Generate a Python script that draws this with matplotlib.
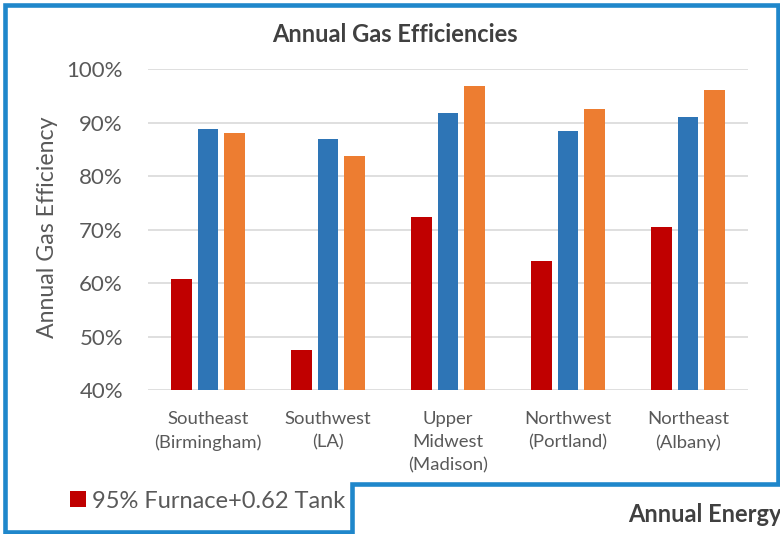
import matplotlib
matplotlib.use("Agg")
import matplotlib.pyplot as plt
from matplotlib.patches import Rectangle
import numpy as np

categories = ["Southeast\n(Birmingham)", "Southwest\n(LA)", "Upper\nMidwest\n(Madison)",
              "Northwest\n(Portland)", "Northeast\n(Albany)"]
series_names = ["95% Furnace+0.62 Tank", "Series 2", "Series 3"]
furnace_tank = [0.608, 0.474, 0.723, 0.641, 0.705]
series_blue = [0.888, 0.870, 0.918, 0.885, 0.911]
series_orange = [0.880, 0.838, 0.969, 0.925, 0.961]
yticks = [0.4, 0.5, 0.6, 0.7, 0.8, 0.9, 1.0]
ytick_labels = ["40%", "50%", "60%", "70%", "80%", "90%", "100%"]

colors = ["#C00000", "#2E75B6", "#ED7D31"]
FONT = ["Lato", "DejaVu Sans"]
plt.rcParams['font.family'] = FONT

W, H = 780, 534
fig = plt.figure(figsize=(W / 100, H / 100), dpi=100)
fig.patch.set_facecolor("white")

ax = fig.add_axes([148 / W, 1 - 390 / H, 600 / W, (390 - 69.3) / H])
x = np.arange(len(categories))
width = 0.173
step = 0.219
bars = []
for i, (vals, c) in enumerate(zip([furnace_tank, series_blue, series_orange], colors)):
    b = ax.bar(x + (i - 1) * step, vals, width=width, color=c, zorder=3, label=series_names[i])
    bars.append(b)

ax.set_ylim(0.4, 1.0)
ax.set_xlim(-0.5, len(categories) - 0.5)
ax.set_yticks(yticks)
ax.set_yticklabels(ytick_labels)
ax.set_xticks(x)
ax.set_xticklabels(categories, linespacing=1.55)
ax.grid(axis="y", color="#D9D9D9", linewidth=1.2, zorder=0)
for s in ax.spines.values():
    s.set_visible(False)
ax.tick_params(axis="y", length=0, pad=18, labelsize=16, labelcolor="#595959")
ax.tick_params(axis="x", length=0, pad=15, labelsize=13.3, labelcolor="#595959")
ax.set_ylabel("Annual Gas Efficiency", fontsize=16.7, color="#595959")
ax.yaxis.set_label_coords(-0.15, 0.507)

fig.text(395 / W, 1 - 35 / H, "Annual Gas Efficiencies", ha="center", va="center",
         fontsize=17, fontweight="bold", color="#404040")

# legend (only the first entry visible)
fig.legend(handles=[bars[0]], labels=[series_names[0]], loc="center left",
           bbox_to_anchor=(49 / W, 1 - 501 / H), frameon=False, fontsize=17,
           handlelength=0.65, handleheight=0.65, handletextpad=0.25,
           labelcolor="#595959")

# frames
blue = "#1F87CB"
f1 = Rectangle((5, H - 531.5), 772.5, 526.5, transform=None, fill=False,
               edgecolor=blue, linewidth=3.3, zorder=10)
fig.patches.append(f1)
f2 = Rectangle((352, -30), 500, H - 483.5 + 30, transform=None, facecolor="white",
               edgecolor=blue, linewidth=3.3, zorder=11)
fig.patches.append(f2)
fig.text(628 / W, 1 - 514 / H, "Annual Energy", ha="left", va="center",
         fontsize=17, fontweight="bold", color="#404040", zorder=12)

fig.savefig("out.png", dpi=100)
